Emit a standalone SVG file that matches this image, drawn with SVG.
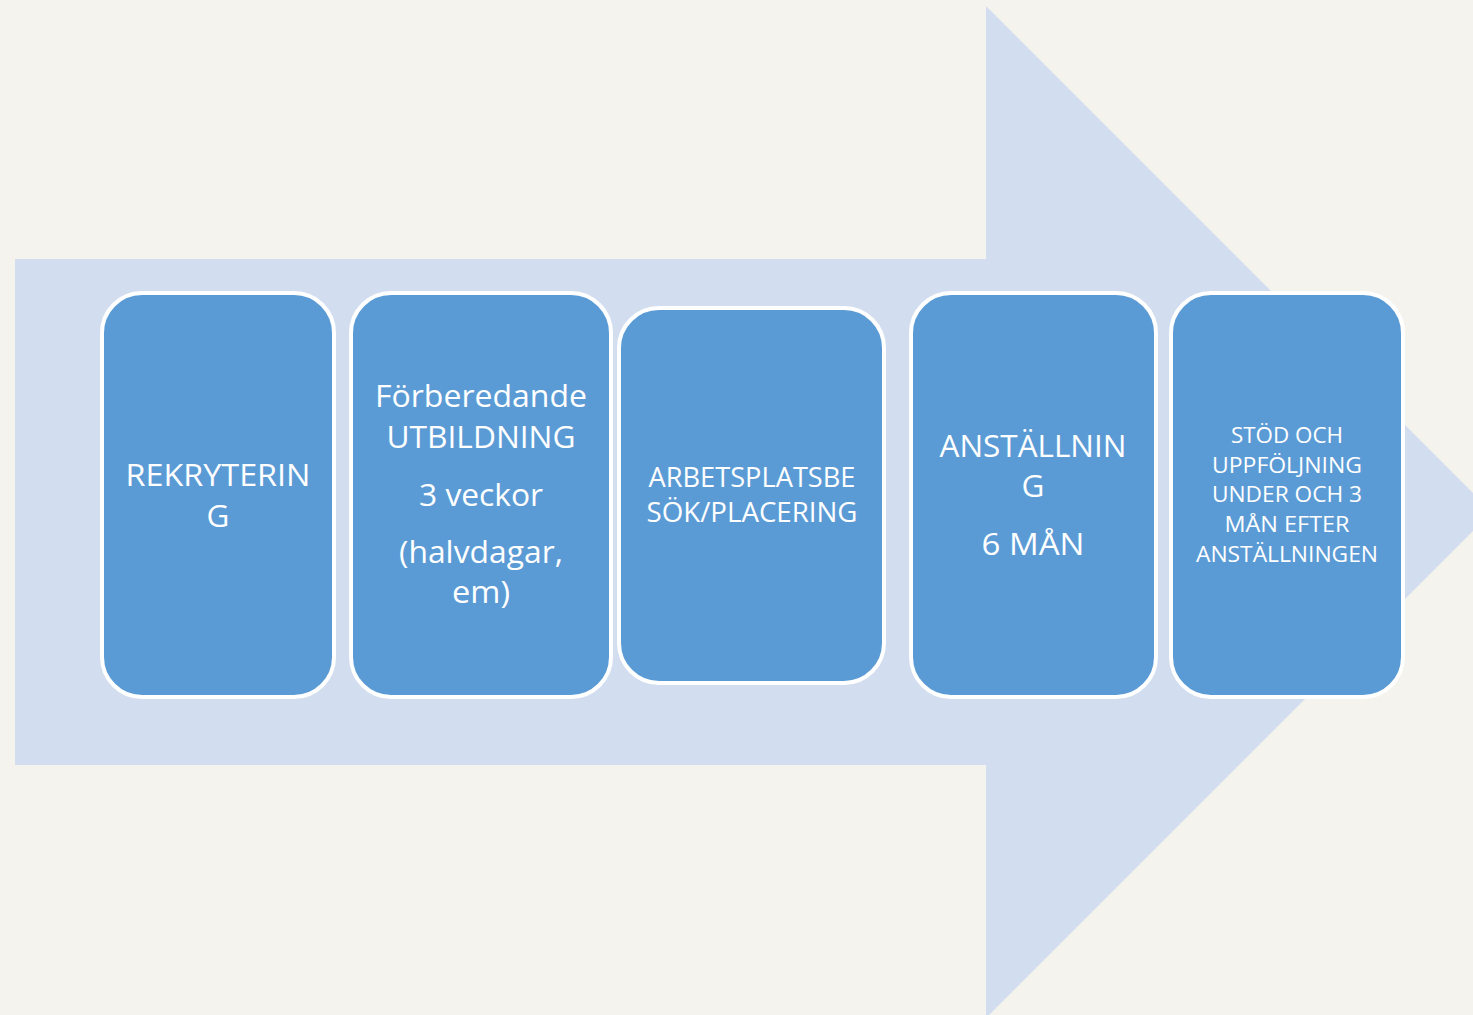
<svg xmlns="http://www.w3.org/2000/svg" width="1473" height="1015" viewBox="0 0 1473 1015">
<style>
.box{fill:#5B9BD5;stroke:#FFFFFF;stroke-width:4}
.t{font-family:"Open Sans","Noto Sans",sans-serif;fill:#FFFFFF;text-anchor:middle}
.l{font-size:31.5px}
.m{font-size:28px}
.s{font-size:22.5px}
</style>
<rect x="0" y="0" width="1473" height="1015" fill="#F4F3EE"/>
<g id="connectors">
<polygon points="15,259 986,259 986,6 1492,512 986,1018 986,765 15,765" fill="#D2DEEF"/>
</g>
<g id="node1">
<rect class="box" x="102" y="293" width="232" height="404" rx="40"/>
<text class="t l" x="218" y="486" textLength="185" lengthAdjust="spacingAndGlyphs">REKRYTERIN</text>
<text class="t l" x="218" y="527">G</text>
</g>
<g id="node2">
<rect class="box" x="351" y="293" width="260" height="404" rx="40"/>
<text class="t l" x="481" y="407" textLength="212" lengthAdjust="spacingAndGlyphs">Förberedande</text>
<text class="t l" x="481" y="448" textLength="189" lengthAdjust="spacingAndGlyphs">UTBILDNING</text>
<text class="t l" x="481" y="506" textLength="124" lengthAdjust="spacingAndGlyphs">3 veckor</text>
<text class="t l" x="481" y="563" textLength="164" lengthAdjust="spacingAndGlyphs">(halvdagar,</text>
<text class="t l" x="481" y="603" textLength="58" lengthAdjust="spacingAndGlyphs">em)</text>
</g>
<g id="node3">
<rect class="box" x="619" y="308" width="265" height="375" rx="40"/>
<text class="t m" x="752" y="487" textLength="207" lengthAdjust="spacingAndGlyphs">ARBETSPLATSBE</text>
<text class="t m" x="752" y="522" textLength="211" lengthAdjust="spacingAndGlyphs">SÖK/PLACERING</text>
</g>
<g id="node4">
<rect class="box" x="911" y="293" width="245" height="404" rx="40"/>
<text class="t l" x="1033" y="457" textLength="187" lengthAdjust="spacingAndGlyphs">ANSTÄLLNIN</text>
<text class="t l" x="1033" y="497">G</text>
<text class="t l" x="1033" y="555" textLength="103" lengthAdjust="spacingAndGlyphs">6 MÅN</text>
</g>
<g id="node5">
<rect class="box" x="1171" y="293" width="232" height="404" rx="40"/>
<text class="t s" x="1287" y="443" textLength="112" lengthAdjust="spacingAndGlyphs">STÖD OCH</text>
<text class="t s" x="1287" y="473" textLength="150" lengthAdjust="spacingAndGlyphs">UPPFÖLJNING</text>
<text class="t s" x="1287" y="502" textLength="150" lengthAdjust="spacingAndGlyphs">UNDER OCH 3</text>
<text class="t s" x="1287" y="532" textLength="125" lengthAdjust="spacingAndGlyphs">MÅN EFTER</text>
<text class="t s" x="1287" y="562" textLength="182" lengthAdjust="spacingAndGlyphs">ANSTÄLLNINGEN</text>
</g>
</svg>
